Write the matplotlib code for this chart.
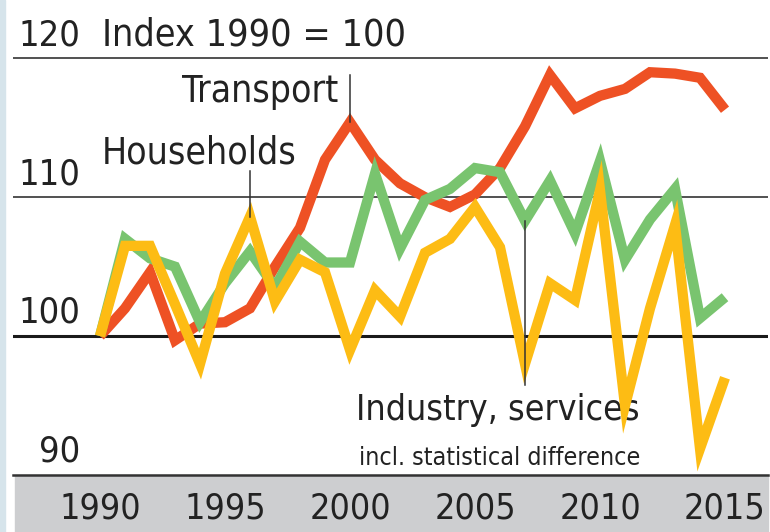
import re
import numpy as np
import matplotlib
matplotlib.use('Agg')
import matplotlib.pyplot as plt
from matplotlib import font_manager as fm
from matplotlib.patches import Rectangle

# --- Data (index 1990 = 100) ---
years = list(range(1990, 2016))
transport = [100, 102.0, 104.6, 99.7, 100.9, 101.0, 102.0, 105.0, 107.8, 112.7,
             115.4, 112.7, 111.0, 110.0, 109.3, 110.2, 112.1, 115.1, 118.8, 116.4,
             117.3, 117.8, 119.0, 118.9, 118.6, 116.3]
households = [100, 107.0, 105.6, 105.0, 101.0, 103.8, 106.1, 103.5, 106.8, 105.3,
              105.3, 111.7, 106.3, 109.8, 110.6, 112.1, 111.8, 108.3, 111.2, 107.4,
              112.6, 105.5, 108.4, 110.6, 101.3, 102.8]
industry = [100, 106.5, 106.5, 102.3, 98.0, 104.5, 108.6, 102.5, 105.5, 104.6,
            99.0, 103.3, 101.4, 106.0, 107.0, 109.3, 106.4, 98.0, 103.8, 102.6,
            110.5, 95.0, 102.0, 108.0, 91.9, 97.0]

ytick_vals = [90, 100, 110, 120]
xtick_vals = [1990, 1995, 2000, 2005, 2010, 2015]

# --- Font: look for a narrow / condensed face, else plain sans ---
prefs = ['LiberationSansNarrow-Regular', 'DejaVuSansCondensed.', 'NotoSans-Condensed.',
         'RobotoCondensed-Regular', 'OpenSans_Condensed-Regular']
files = [f.fname for f in fm.fontManager.ttflist]
font_file = None
for p in prefs:
    hit = [f for f in files if p.lower() in f.lower()]
    if hit:
        font_file = hit[0]
        break
if font_file is None:
    hit = [f for f in files if re.search(r'(narrow|condensed)', f, re.I)
           and not re.search(r'(bold|italic|light|thin|black|medium|semi|extra|oblique)', f, re.I)]
    font_file = hit[0] if hit else None

def fp(size):
    if font_file:
        return fm.FontProperties(fname=font_file, size=size)
    return fm.FontProperties(family='DejaVu Sans', size=size)

RED = '#EE5124'
GREEN = '#79C46F'
YELLOW = '#FDBC14'
DARK = '#222222'

W, H = 770, 532
fig = plt.figure(figsize=(W / 100, H / 100), dpi=100)

# light blue strip at the left edge, grey band for the year labels
fig.patches.append(Rectangle((0, 0), 5 / W, 1, transform=fig.transFigure,
                             color='#D6E4EB', zorder=-5))
fig.patches.append(Rectangle((15 / W, 0), (768 - 15) / W, 57 / H,
                             transform=fig.transFigure, color='#CDCED0', zorder=-5))

ax = fig.add_axes([13 / W, 57 / H, (768 - 13) / W, (H - 57) / H])
ax.patch.set_alpha(0)
ax.set_xlim(1986.52, 2016.72)
ax.set_ylim(90, 124.2)
for s in ax.spines.values():
    s.set_visible(False)
ax.set_yticks([])

renderer = fig.canvas.get_renderer()

def fit(t, width_px):
    # scale a text so its width matches the reference width
    w = t.get_window_extent(renderer).width
    t.set_fontsize(t.get_fontsize() * width_px / w)
    return t

# horizontal rules
ax.axhline(120, color='#333333', lw=1.2, zorder=1)
ax.axhline(110, color='#333333', lw=1.2, zorder=1)
ax.axhline(100, color='#1a1a1a', lw=2.2, zorder=1)
ax.axhline(90, color='#333333', lw=1.8, zorder=1, clip_on=False)

# y labels sit above their rules
ylab_size = None
for v in sorted(ytick_vals, reverse=True):
    t = ax.text(1989.2, v + 0.95, str(v), ha='right', va='baseline',
                fontproperties=fp(30), color=DARK)
    if ylab_size is None:
        fit(t, 62)
        ylab_size = t.get_fontsize()
    else:
        t.set_fontsize(ylab_size)
t = ax.text(1990.08, 120.95, 'Index 1990 = 100', ha='left', va='baseline',
            fontproperties=fp(30), color=DARK)
fit(t, 303)

# series
kw = dict(lw=7.4, solid_joinstyle='miter', solid_capstyle='butt')
ax.plot(years, transport, color=RED, zorder=3, **kw)
ax.plot(years, households, color=GREEN, zorder=4, **kw)
ax.plot(years, industry, color=YELLOW, zorder=5, **kw)

# labels with leader lines
t = ax.text(1999.52, 116.83, 'Transport', ha='right', va='baseline',
            fontproperties=fp(30), color=DARK)
fit(t, 156)
ax.plot([2000, 2000], [115.4, 118.8], color='#333333', lw=1.1, zorder=6)

t = ax.text(1990.08, 112.45, 'Households', ha='left', va='baseline',
            fontproperties=fp(30), color=DARK)
fit(t, 195)
ax.plot([1996, 1996], [108.6, 111.9], color='#333333', lw=1.1, zorder=6)

t = ax.text(2011.6, 93.96, 'Industry, services', ha='right', va='baseline',
            fontproperties=fp(29), color=DARK)
fit(t, 283)
t = ax.text(2011.6, 90.72, 'incl. statistical difference', ha='right', va='baseline',
            fontproperties=fp(22), color=DARK)
fit(t, 282)
ax.plot([2007, 2007], [96.5, 108.3], color='#333333', lw=1.1, zorder=6)

# x ticks inside the grey band
ax.set_xticks(xtick_vals)
ax.set_xticklabels([str(y) for y in xtick_vals], color=DARK)
ax.tick_params(axis='x', length=0, pad=12)
lab = ax.get_xticklabels()[0]
lab.set_fontproperties(fp(33))
fit(lab, 82)
size = lab.get_fontsize()
for lab in ax.get_xticklabels():
    lab.set_fontproperties(fp(size))

fig.savefig('out.png', dpi=100)
